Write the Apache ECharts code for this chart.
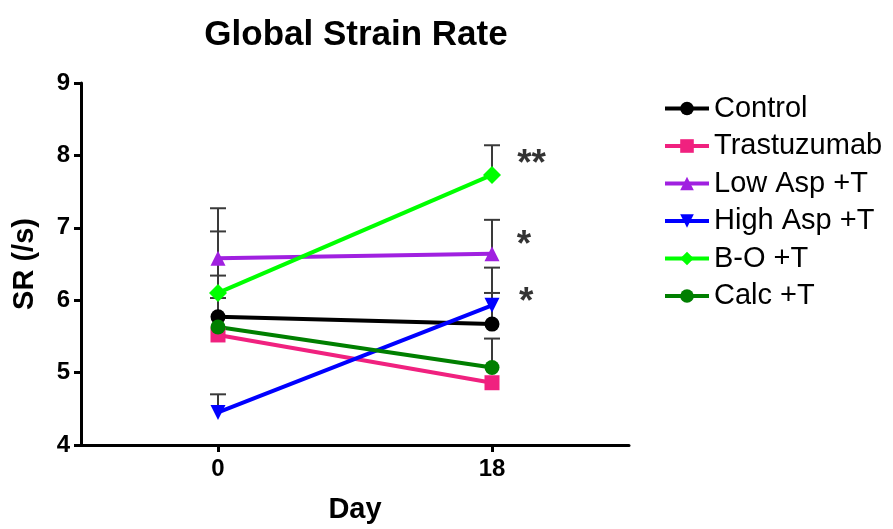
<!DOCTYPE html>
<html>
<head>
<meta charset="utf-8">
<title>Global Strain Rate</title>
<script src="https://cdn.jsdelivr.net/npm/echarts@6/dist/echarts.min.js"></script>
<style>
  html, body { margin: 0; padding: 0; background: #fff; }
  #chart { width: 893px; height: 529px; }
</style>
</head>
<body>
<div id="chart"></div>
<script>
// days on the x axis
const days = [0, 18];

// group means (SR, /s)
const groupNames = ["Control", "Trastuzumab", "Low Asp +T", "High Asp +T", "B-O +T", "Calc +T"];
const control = [5.77, 5.67];
const trastuzumab = [5.52, 4.86];
const lowAsp = [6.58, 6.64];
const highAsp = [4.45, 5.93];
const bo = [6.10, 7.73];
const calc = [5.63, 5.07];

// upper ends of the error bars (null = hidden behind the marker)
const controlErr = [6.03, 6.10];
const trastuzumabErr = [null, null];
const lowAspErr = [7.27, 7.11];
const highAspErr = [4.70, 6.45];
const boErr = [6.95, 8.14];
const calcErr = [6.34, 5.47];

// significance marks next to day 18
const sigLabels = ["**", "*", "*"];
const sigX = [20.6, 20.1, 20.25];
const sigY = [7.87, 6.75, 5.96];

const yTicks = [4, 5, 6, 7, 8, 9];

const colors = ["#000000", "#f0217f", "#a020e0", "#0000ff", "#00ff00", "#007f00"];
const symbols = ["circle", "rect", "triangle", "triangle", "diamond", "circle"];
const rotations = [0, 0, 0, 180, 0, 0];
const means = [control, trastuzumab, lowAsp, highAsp, bo, calc];
const errs = [controlErr, trastuzumabErr, lowAspErr, highAspErr, boErr, calcErr];

const FONT = "'Liberation Sans', Arial, sans-serif";

const errorData = [];
means.forEach((vals, i) => {
  vals.forEach((v, j) => {
    if (errs[i][j] != null) errorData.push([days[j], v, errs[i][j]]);
  });
});

const lineSeries = groupNames.map((name, i) => ({
  type: "line",
  name: name,
  data: days.map((d, j) => [d, means[i][j]]),
  color: colors[i],
  symbol: symbols[i],
  symbolRotate: rotations[i],
  symbolSize: symbols[i] === "diamond" ? 18 : 15,
  lineStyle: { width: 4, color: colors[i] },
  itemStyle: { color: colors[i] },
  z: 3,
}));

const chart = echarts.init(document.getElementById("chart"));

chart.setOption({
  animation: false,
  title: {
    text: "Global Strain Rate",
    left: 351,
    textAlign: "center",
    top: 13,
    textStyle: { fontFamily: FONT, fontSize: 35, fontWeight: "bold", color: "#000" },
  },
  legend: {
    orient: "vertical",
    left: 658,
    top: 89,
    itemWidth: 44,
    itemHeight: 17,
    itemGap: 8.5,
    data: groupNames,
    lineStyle: { width: 4 },
    textStyle: { fontFamily: FONT, fontSize: 29, color: "#000", lineHeight: 29 },
  },
  grid: { left: 81, right: 264, top: 83, bottom: 81 },
  xAxis: {
    type: "value",
    min: -9,
    max: 27,
    name: "Day",
    nameLocation: "middle",
    nameGap: 50,
    nameTextStyle: { fontFamily: FONT, fontSize: 29, fontWeight: "bold", color: "#000" },
    splitLine: { show: false },
    axisLine: { onZero: false, lineStyle: { color: "#000", width: 3 } },
    axisTick: { customValues: days, length: 7, lineStyle: { color: "#000", width: 3 } },
    axisLabel: {
      customValues: days,
      margin: 12,
      fontFamily: FONT,
      fontSize: 24,
      fontWeight: "bold",
      color: "#000",
    },
  },
  yAxis: {
    type: "value",
    min: 4,
    max: 9,
    interval: 1,
    name: "SR (/s)",
    nameLocation: "middle",
    nameGap: 42,
    nameRotate: 90,
    nameTextStyle: { fontFamily: FONT, fontSize: 29, fontWeight: "bold", color: "#000" },
    splitLine: { show: false },
    axisLine: { show: true, onZero: false, lineStyle: { color: "#000", width: 3 } },
    axisTick: { show: true, length: 7, customValues: yTicks, lineStyle: { color: "#000", width: 3 } },
    axisLabel: {
      customValues: yTicks,
      margin: 11,
      fontFamily: FONT,
      fontSize: 24,
      fontWeight: "bold",
      color: "#000",
    },
  },
  series: [
    {
      type: "custom",
      name: "errors",
      z: 1,
      silent: true,
      data: errorData,
      renderItem: (params, api) => {
        const bottom = api.coord([api.value(0), api.value(1)]);
        const top = api.coord([api.value(0), api.value(2)]);
        const half = 8;
        const style = { stroke: "#3a3a3a", lineWidth: 2 };
        return {
          type: "group",
          children: [
            { type: "line", shape: { x1: bottom[0], y1: bottom[1], x2: top[0], y2: top[1] }, style },
            { type: "line", shape: { x1: top[0] - half, y1: top[1], x2: top[0] + half, y2: top[1] }, style },
          ],
        };
      },
    },
    ...lineSeries,
    {
      type: "scatter",
      name: "sig",
      symbolSize: 1,
      itemStyle: { color: "rgba(0,0,0,0)" },
      silent: true,
      data: sigX.map((x, i) => ({ value: [x, sigY[i]], label: { formatter: sigLabels[i] } })),
      label: {
        show: true,
        position: "inside",
        fontFamily: FONT,
        fontSize: 37,
        fontWeight: "bold",
        color: "#000",
        textBorderWidth: 0,
      },
    },
  ],
});
</script>
</body>
</html>
